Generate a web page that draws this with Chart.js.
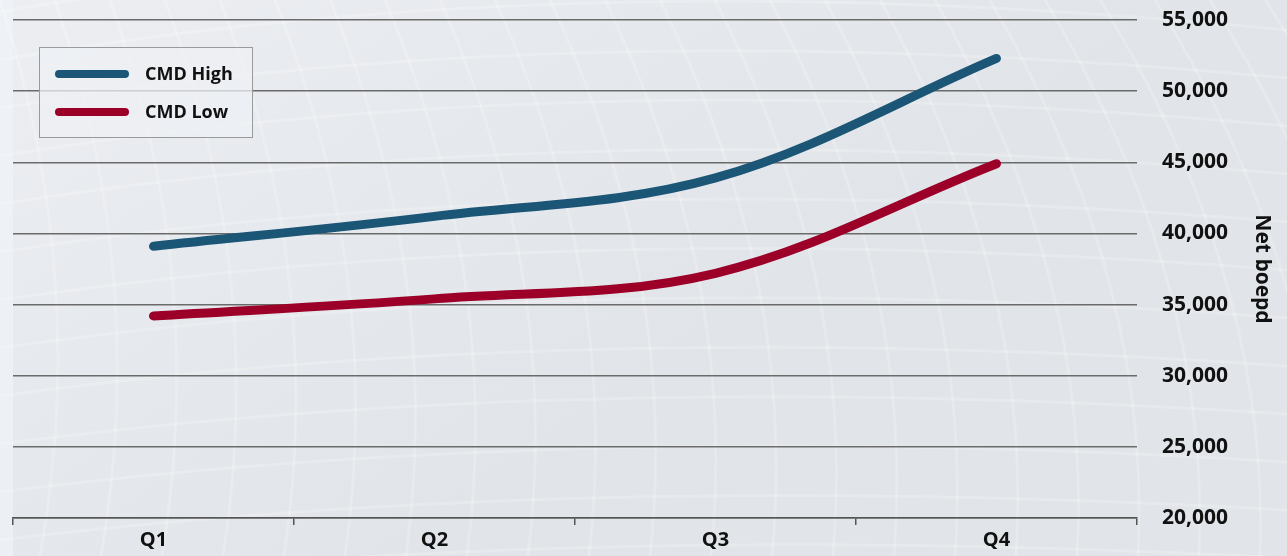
<!DOCTYPE html>
<html>
<head>
<meta charset="utf-8">
<script src="https://cdn.jsdelivr.net/npm/chart.js@4"></script>
<style>
  html, body { margin: 0; padding: 0; background: #e6e9ed; }
  #wrap { width: 1287px; height: 556px; position: relative; }
</style>
</head>
<body>
<div id="wrap"><canvas id="boepdChart"></canvas></div>
<script>
const quarters = ["Q1", "Q2", "Q3", "Q4"];
const cmdHigh = [39100, 41200, 43900, 52300];
const cmdLow = [34200, 35400, 37200, 44900];
const yMin = 20000;
const yMax = 55000;
const yStep = 5000;

const BOLD = "'Open Sans', 'DejaVu Sans', sans-serif";

// light grey backdrop with a faint wire mesh
const backdrop = {
  id: "backdrop",
  beforeDraw(chart) {
    const ctx = chart.ctx;
    const w = chart.width, h = chart.height;
    ctx.save();
    const g = ctx.createLinearGradient(0, 0, w * 0.3, h);
    g.addColorStop(0, "#eceef2");
    g.addColorStop(0.5, "#e6e9ed");
    g.addColorStop(1, "#e1e4e8");
    ctx.fillStyle = g;
    ctx.fillRect(0, 0, w, h);
    ctx.fillStyle = "rgba(240,243,248,0.7)";
    ctx.fillRect(0, 0, 13, h);
    ctx.strokeStyle = "rgba(255,255,255,0.22)";
    ctx.lineWidth = 3;
    for (let i = -6; i < 30; i++) {
      const x = i * 55;
      ctx.beginPath();
      ctx.moveTo(x, 0);
      ctx.quadraticCurveTo(x + 90 + i * 4, h * 0.5, x + 40 + i * 6, h);
      ctx.stroke();
    }
    for (let j = -4; j < 14; j++) {
      const y = j * 48;
      ctx.beginPath();
      ctx.moveTo(0, y + 60);
      ctx.quadraticCurveTo(w * 0.45, y - 40 + j * 3, w, y + 30);
      ctx.stroke();
    }
    ctx.restore();
  }
};

// boxed legend drawn over the plot area
const boxLegend = {
  id: "boxLegend",
  afterDraw(chart) {
    const ctx = chart.ctx;
    ctx.save();
    ctx.fillStyle = "rgba(238,240,244,0.75)";
    ctx.fillRect(39.5, 47.5, 213, 90);
    ctx.strokeStyle = "#9a9a9a";
    ctx.lineWidth = 1;
    ctx.strokeRect(39.5, 47.5, 213, 90);
    chart.data.datasets.forEach((ds, i) => {
      const y = 74 + i * 38;
      ctx.beginPath();
      ctx.moveTo(59, y);
      ctx.lineTo(125, y);
      ctx.lineWidth = 8;
      ctx.lineCap = "round";
      ctx.strokeStyle = ds.borderColor;
      ctx.stroke();
      ctx.fillStyle = "#111";
      ctx.font = "700 18px " + BOLD;
      ctx.textBaseline = "middle";
      ctx.fillText(ds.label, 145, y + 1);
    });
    ctx.restore();
  }
};

new Chart(document.getElementById("boepdChart"), {
  type: "line",
  data: {
    labels: quarters,
    datasets: [
      {
        label: "CMD High",
        data: cmdHigh,
        borderColor: "#1b5677",
        borderWidth: 9,
        borderCapStyle: "round",
        pointRadius: 0,
        tension: 0.35,
      },
      {
        label: "CMD Low",
        data: cmdLow,
        borderColor: "#9c0029",
        borderWidth: 9,
        borderCapStyle: "round",
        pointRadius: 0,
        tension: 0.35,
      },
    ],
  },
  options: {
    responsive: true,
    maintainAspectRatio: false,
    animation: false,
    layout: { padding: { left: 13, top: 20, right: 0, bottom: 0 } },
    plugins: {
      legend: { display: false },
      tooltip: { enabled: false },
    },
    scales: {
      x: {
        offset: true,
        grid: {
          offset: true,
          drawOnChartArea: false,
          drawTicks: true,
          tickLength: 7,
          color: "#555",
          lineWidth: 1.5,
        },
        border: { display: true, color: "#555", width: 1.5 },
        ticks: {
          color: "#111",
          font: { family: BOLD, size: 20, weight: "700" },
          padding: 3,
        },
        afterFit(scale) {
          scale.height = 38;
        },
      },
      y: {
        position: "right",
        min: yMin,
        max: yMax,
        // invisible tick marks push the labels away from the plot
        grid: {
          color: "#6b6b6b",
          lineWidth: 1.5,
          drawTicks: true,
          tickLength: 25,
          tickColor: "rgba(0,0,0,0)",
        },
        border: { display: false },
        ticks: {
          stepSize: yStep,
          padding: 0,
          color: "#111",
          font: { family: BOLD, size: 21, weight: "700" },
          callback: (v) => v.toLocaleString("en-US"),
        },
        title: {
          display: true,
          text: "Net boepd",
          color: "#111",
          font: { family: BOLD, size: 21, weight: "700" },
          padding: { top: 12, bottom: 0 },
        },
        afterFit(scale) {
          scale.width = 150;
        },
      },
    },
  },
  plugins: [backdrop, boxLegend],
});
</script>
</body>
</html>
